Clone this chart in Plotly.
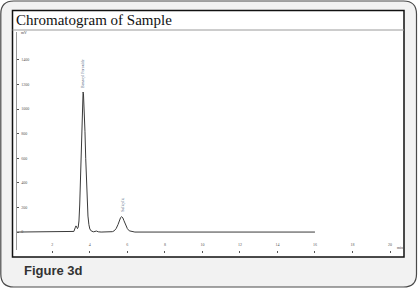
import plotly.graph_objects as go

# ---- data ----
time_min = [0.12, 3.00, 3.15, 3.22, 3.26, 3.30, 3.34, 3.38, 3.42, 3.46, 3.50, 3.54, 3.58,
            3.62, 3.64, 3.66, 3.70, 3.74, 3.78, 3.82, 3.86, 3.90, 3.95, 4.00, 4.08,
            4.20, 4.35, 4.45, 4.60, 5.10, 5.20, 5.30, 5.40, 5.50, 5.58, 5.64, 5.70,
            5.76, 5.82, 5.90, 6.00, 6.10, 6.25, 6.40, 16.0]
signal_mv = [0, 0, 5, 35, 50, 40, 28, 40, 90, 220, 450, 720, 960,
             1110, 1139, 1125, 1010, 820, 600, 400, 240, 130, 60, 25, 8,
             2, 8, 2, 0, 0, 3, 10, 28, 60, 95, 118, 125,
             115, 92, 58, 28, 10, 2, 0, 0]
peak_names = ["Benzoyl Peroxide", "Salicylic"]
peak_times = [3.64, 5.70]
peak_label_y = [1286, 220]
x_ticks = [2, 4, 6, 8, 10, 12, 14, 16, 18, 20]
y_ticks = [0, 200, 400, 600, 800, 1000, 1200, 1400]

W, H = 418, 289
def px(x): return x / W
def py(y): return 1 - y / H

fig = go.Figure()
fig.add_trace(go.Scatter(x=time_min, y=signal_mv, mode="lines",
                         line=dict(color="#3a3a3a", width=1), hoverinfo="skip",
                         showlegend=False))

annotations = []
for name, t, ly in zip(peak_names, peak_times, peak_label_y):
    annotations.append(dict(x=t, y=ly, xref="x", yref="y", text=name, textangle=-90,
                            showarrow=False, font=dict(family="Liberation Serif", size=4,
                                                       color="#4a5a7a")))
annotations += [
    dict(x=px(14), y=py(20), xref="paper", yref="paper", xanchor="left", yanchor="middle",
         text="Chromatogram of Sample", showarrow=False,
         font=dict(family="Liberation Serif", size=15, color="#111")),
    dict(x=px(22), y=py(270), xref="paper", yref="paper", xanchor="left", yanchor="middle",
         text="<b>Figure 3d</b>", showarrow=False,
         font=dict(family="Liberation Sans", size=13, color="#333")),
    dict(x=px(19), y=py(33), xref="paper", yref="paper", xanchor="left", yanchor="middle",
         text="mV", showarrow=False, font=dict(family="Liberation Serif", size=4, color="#444")),
    dict(x=px(395), y=py(247), xref="paper", yref="paper", xanchor="left", yanchor="middle",
         text="min", showarrow=False, font=dict(family="Liberation Serif", size=4, color="#444")),
]

def rounded(x0, y0, x1, y1, r):
    rx, ry = r / W, r / H
    X0, X1 = px(x0), px(x1)
    Y0, Y1 = py(y0), py(y1)  # Y0 top, Y1 bottom
    return (f"M {X0+rx},{Y0} L {X1-rx},{Y0} Q {X1},{Y0} {X1},{Y0-ry} "
            f"L {X1},{Y1+ry} Q {X1},{Y1} {X1-rx},{Y1} L {X0+rx},{Y1} "
            f"Q {X0},{Y1} {X0},{Y1+ry} L {X0},{Y0-ry} Q {X0},{Y0} {X0+rx},{Y0} Z")

shapes = [
    dict(type="path", xref="paper", yref="paper", path=rounded(0.8, 1, 416.5, 287, 13),
         fillcolor="#f2f2f2", line=dict(color="#4a4a4a", width=1.2), layer="below"),
    dict(type="rect", xref="paper", yref="paper", x0=px(12.5), x1=px(404), y0=py(257), y1=py(10.5),
         fillcolor="white", line=dict(color="#111", width=1.5), layer="below"),
    dict(type="line", xref="paper", yref="paper", x0=px(12.5), x1=px(404), y0=py(30), y1=py(30),
         line=dict(color="#9a9a9a", width=1), layer="below"),
]

fig.update_layout(
    width=W, height=H, margin=dict(l=0, r=0, t=0, b=0),
    paper_bgcolor="white", plot_bgcolor="rgba(0,0,0,0)",
    shapes=shapes, annotations=annotations,
    xaxis=dict(domain=[px(17), px(404)], range=[(17 - 14.8) / 18.76, (404 - 14.8) / 18.76],
               tickvals=x_ticks, ticktext=[str(v) for v in x_ticks],
               ticks="outside", ticklen=2, tickcolor="#555", ticklabelposition="inside",
               tickfont=dict(family="Liberation Serif", size=4, color="#555"),
               showgrid=False, zeroline=False, showline=False),
    yaxis=dict(domain=[py(250), py(32)], range=[-146, 1627],
               tickvals=y_ticks, ticktext=[str(v) for v in y_ticks],
               ticks="inside", ticklen=2, tickcolor="#555", ticklabelposition="inside",
               tickfont=dict(family="Liberation Serif", size=4, color="#555"),
               showgrid=False, zeroline=False, showline=True, linecolor="#999", linewidth=1),
)

fig.write_html("out.html")
